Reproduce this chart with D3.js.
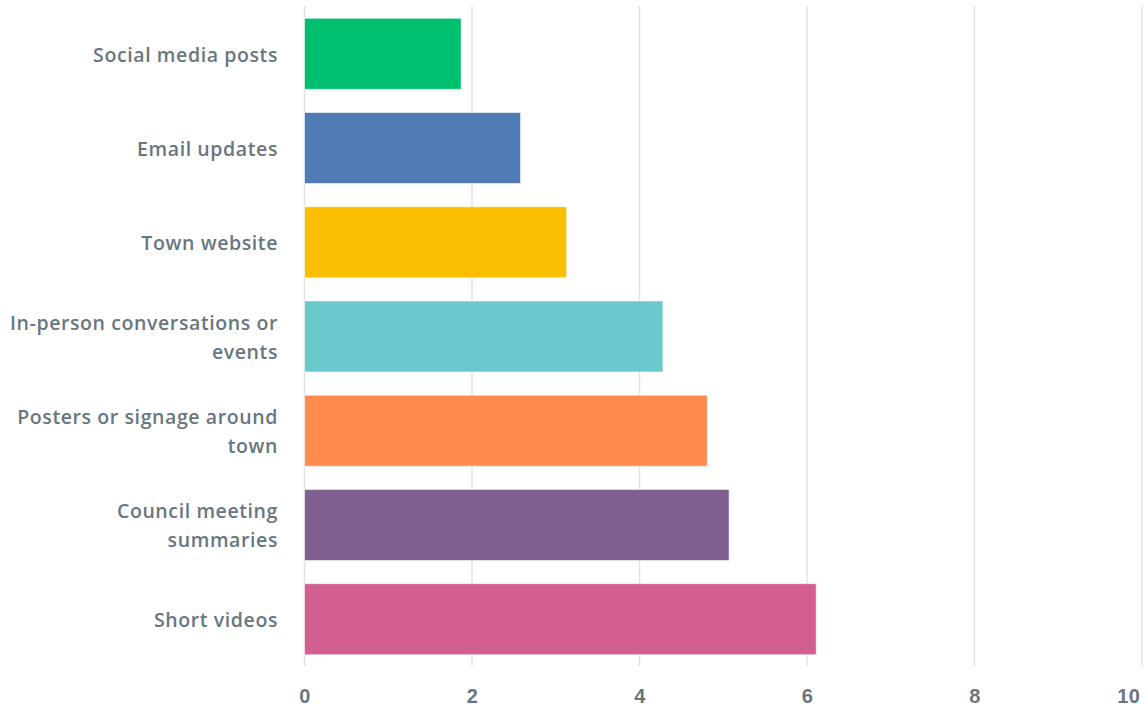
<!DOCTYPE html>
<html>
<head>
<meta charset="utf-8">
<script src="https://cdn.jsdelivr.net/npm/d3@7"></script>
<style>
  body { margin: 0; background: #fff; }
  svg { display: block; font-family: "Open Sans", "Lato", sans-serif; }
</style>
</head>
<body>
<svg id="chart" width="1146" height="708"></svg>
<script>
// chart data, top bar first
var categories = [
  'Social media posts',
  'Email updates',
  'Town website',
  'In-person conversations or\nevents',
  'Posters or signage around\ntown',
  'Council meeting\nsummaries',
  'Short videos'
];
var values = [1.87, 2.58, 3.13, 4.28, 4.81, 5.07, 6.11];
var barColors = ['#00bf6f', '#507cb6', '#f9be00', '#6bc8cd', '#ff8b4f', '#7f5f90', '#d25f90'];
var xTicks = [0, 2, 4, 6, 8, 10];

var svg = d3.select('#chart');
var textColor = '#687680';

var x = d3.scaleLinear().domain([0, 10]).range([304.5, 1142]);
var y = d3.scaleBand()
  .domain(categories)
  .range([6, 667])
  .paddingInner(0.246)
  .paddingOuter(0.13);

// vertical grid lines behind the bars
svg.append('g').selectAll('line')
  .data(xTicks)
  .enter().append('line')
    .attr('x1', function(d) { return x(d); })
    .attr('x2', function(d) { return x(d); })
    .attr('y1', 6)
    .attr('y2', 666)
    .style('stroke', '#e3e3e3')
    .style('stroke-width', 1.5);

// bars
svg.append('g').selectAll('rect')
  .data(values)
  .enter().append('rect')
    .attr('x', x(0))
    .attr('y', function(d, i) { return y(categories[i]); })
    .attr('width', function(d) { return x(d) - x(0); })
    .attr('height', y.bandwidth())
    .style('fill', function(d, i) { return barColors[i]; })
    .style('stroke', 'rgba(255,255,255,0.6)')
    .style('stroke-width', 1);

// x axis labels
var xAxis = d3.axisBottom(x).tickValues(xTicks).tickSize(0).tickPadding(0);
var gx = svg.append('g')
  .attr('transform', 'translate(0,' + 688.5 + ')')
  .call(xAxis);
gx.select('.domain').remove();
gx.selectAll('text')
  .attr('dy', '0.71em')
  .style('font-size', '20px')
  .style('font-weight', 600)
  .style('letter-spacing', '0.5px')
  .style('fill', textColor);
// last label pulled in so it stays inside the frame
gx.selectAll('.tick').filter(function(d) { return d === 10; }).select('text')
  .attr('text-anchor', 'end')
  .attr('x', -2);

// category labels, wrapped on \n
var lineHeight = 29;
svg.append('g').selectAll('text')
  .data(categories)
  .enter().append('text')
    .attr('text-anchor', 'end')
    .style('font-size', '19.5px')
    .style('font-weight', 600)
    .style('letter-spacing', '0.6px')
    .style('fill', textColor)
    .each(function(d) {
      var lines = d.split('\n');
      var cy = y(d) + y.bandwidth() / 2;
      var start = cy - (lines.length - 1) * lineHeight / 2;
      var t = d3.select(this);
      lines.forEach(function(line, k) {
        t.append('tspan')
          .attr('x', 278)
          .attr('y', start + k * lineHeight)
          .attr('dy', '0.4em')
          .text(line);
      });
    });
</script>
</body>
</html>
